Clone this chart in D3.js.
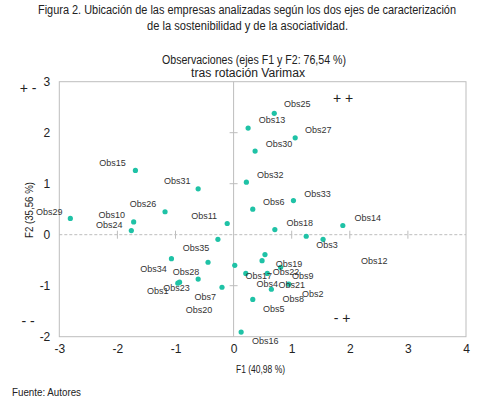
<!DOCTYPE html>
<html>
<head>
<meta charset="utf-8">
<script src="https://cdn.jsdelivr.net/npm/d3@7"></script>
<style>
  body { margin: 0; background: #fff; }
  .narrow { font-family: "Liberation Sans", Arial, sans-serif; fill: #222; }
  .obs { font-family: "Liberation Sans", Arial, sans-serif; font-size: 9px; fill: #333; }
</style>
</head>
<body>
<div id="chart"></div>
<script>

var names = ["Obs1","Obs2","Obs3","Obs4","Obs5","Obs6","Obs7","Obs8","Obs9","Obs10",
             "Obs11","Obs12","Obs13","Obs14","Obs15","Obs16","Obs17","Obs18","Obs19","Obs20",
             "Obs21","Obs22","Obs23","Obs24","Obs25","Obs26","Obs27","Obs28","Obs29","Obs30",
             "Obs31","Obs32","Obs33","Obs34","Obs35"];
var f1 = [-0.96, 0.02, 1.54, 0.58, 0.33, 0.33, -0.61, 0.65, 0.81, -1.72,
          -0.11, 1.25, 0.25, 1.88, -1.69, 0.13, 0.21, 0.71, 0.54, -0.20,
          0.95, 0.49, -0.93, -1.76, 0.70, -1.18, 1.06, -0.44, -2.81, 0.37,
          -0.61, 0.22, 1.03, -1.07, -0.27];
var f2 = [-0.95, -0.60, -0.09, -0.76, -1.27, 0.50, -0.87, -1.07, -0.64, 0.25,
          0.22, -0.03, 2.09, 0.18, 1.26, -1.91, -0.76, 0.10, -0.39, -1.03,
          -0.97, -0.51, -0.93, 0.08, 2.38, 0.45, 1.90, -0.54, 0.32, 1.64,
          0.90, 1.03, 0.67, -0.47, -0.09];
var xTicks = [-3, -2, -1, 0, 1, 2, 3, 4];
var yTicks = [-2, -1, 0, 1, 2, 3];

// where each label sits relative to its point (px)
var labelShift = {
  Obs1:[-20,8], Obs2:[78,29], Obs3:[4,6], Obs4:[0,10], Obs5:[21,9], Obs6:[21,-7],
  Obs7:[7,18], Obs8:[22,10], Obs9:[22,9], Obs10:[-22,-7], Obs11:[-23,-8], Obs12:[68,25],
  Obs13:[24,-8], Obs14:[25,-8], Obs15:[-23,-8], Obs16:[24,9], Obs17:[13,2], Obs18:[25,-7],
  Obs19:[24,9], Obs20:[-23,23], Obs21:[3,1], Obs22:[24,11], Obs23:[-3,6], Obs24:[-22,-6],
  Obs25:[23,-9], Obs26:[-22,-8], Obs27:[23,-8], Obs28:[-22,10], Obs29:[-21,-7], Obs30:[24,-7],
  Obs31:[-21,-8], Obs32:[24,-7], Obs33:[24,-7], Obs34:[-18,10], Obs35:[-22,9]
};

var width = 486, height = 403;
var plotLeft = 59.3, plotRight = 466, plotTop = 81.7, plotBottom = 336.7;

var x = d3.scaleLinear().domain([-3, 4]).range([plotLeft, plotRight]);
var y = d3.scaleLinear().domain([-2, 3]).range([plotBottom, plotTop]);

var svg = d3.select("#chart").append("svg")
    .attr("width", width)
    .attr("height", height);

// narrow-looking text: squeeze to the width seen in the figure
function label(txt, cx, cy, size, len) {
  return svg.append("text").attr("class", "narrow")
      .attr("x", cx).attr("y", cy)
      .attr("text-anchor", "middle").style("font-size", size + "px")
      .attr("textLength", len).attr("lengthAdjust", "spacingAndGlyphs")
      .text(txt);
}

label("Figura 2. Ubicación de las empresas analizadas según los dos ejes de caracterización", 247, 14, 12, 418);
label("de la sostenibilidad y de la asociatividad.", 247.5, 30, 12, 201);
label("Observaciones (ejes F1 y F2: 76,54 %)", 254, 64, 12, 184);
label("tras rotación Varimax", 248, 77, 12, 114);

// frame
svg.append("rect")
    .attr("x", plotLeft).attr("y", plotTop)
    .attr("width", plotRight - plotLeft).attr("height", plotBottom - plotTop)
    .attr("fill", "none").attr("stroke", "#bdbdbd").attr("stroke-width", 1);

// zero lines
svg.append("line")
    .attr("x1", x(0)).attr("x2", x(0)).attr("y1", plotTop).attr("y2", plotBottom)
    .attr("stroke", "#bdbdbd");
svg.append("line")
    .attr("x1", plotLeft).attr("x2", plotRight).attr("y1", y(0)).attr("y2", y(0))
    .attr("stroke", "#bdbdbd").attr("stroke-dasharray", "3,2");

// small ticks along the zero lines
svg.selectAll(".xt").data(xTicks.filter(function(d) { return d > -3 && d < 4 && d != 0; }))
  .enter().append("line")
    .attr("x1", function(d) { return x(d); }).attr("x2", function(d) { return x(d); })
    .attr("y1", y(0) - 4).attr("y2", y(0) + 4)
    .attr("stroke", "#bdbdbd");
svg.selectAll(".yt").data(yTicks.filter(function(d) { return d > -2 && d < 3 && d != 0; }))
  .enter().append("line")
    .attr("x1", x(0) - 4).attr("x2", x(0) + 4)
    .attr("y1", function(d) { return y(d); }).attr("y2", function(d) { return y(d); })
    .attr("stroke", "#bdbdbd");

// axes
var fmt = function(d) { return String(d); };
var xAxis = svg.append("g").attr("transform", "translate(0," + plotBottom + ")")
    .call(d3.axisBottom(x).tickValues(xTicks).tickSize(0).tickPadding(8).tickFormat(fmt));
var yAxis = svg.append("g").attr("transform", "translate(" + plotLeft + ",0)")
    .call(d3.axisLeft(y).tickValues(yTicks).tickSize(0).tickPadding(9).tickFormat(fmt));
[xAxis, yAxis].forEach(function(g) {
  g.select(".domain").remove();
  g.selectAll("text").attr("class", "narrow").style("font-size", "12px").attr("fill", "#222");
});

label("F1 (40,98 %)", 260.5, 373, 10, 49);
label("F2 (35,56 %)", 0, 0, 10, 56).attr("transform", "translate(33,210) rotate(-90)");
label("Fuente: Autores", 46.5, 396, 11, 69);

// quadrant signs
var quads = [["+ -", 28, 93], ["+ +", 343, 103], ["- -", 28, 326], ["- +", 342, 323]];
svg.selectAll(".quad").data(quads).enter().append("text")
    .attr("class", "narrow")
    .attr("x", function(d) { return d[1]; }).attr("y", function(d) { return d[2]; })
    .attr("text-anchor", "middle").style("font-size", "14px")
    .text(function(d) { return d[0]; });

// points
var pts = names.map(function(n, i) { return { name: n, x: f1[i], y: f2[i] }; });

svg.selectAll(".pt").data(pts).enter().append("circle")
    .attr("cx", function(d) { return x(d.x); })
    .attr("cy", function(d) { return y(d.y); })
    .attr("r", 2.6)
    .attr("fill", "#1fc2a6");

svg.selectAll(".obs").data(pts).enter().append("text")
    .attr("class", "obs")
    .attr("x", function(d) { return x(d.x) + labelShift[d.name][0]; })
    .attr("y", function(d) { return y(d.y) + labelShift[d.name][1]; })
    .attr("dy", "0.35em")
    .attr("text-anchor", "middle")
    .text(function(d) { return d.name; });

</script>
</body>
</html>
